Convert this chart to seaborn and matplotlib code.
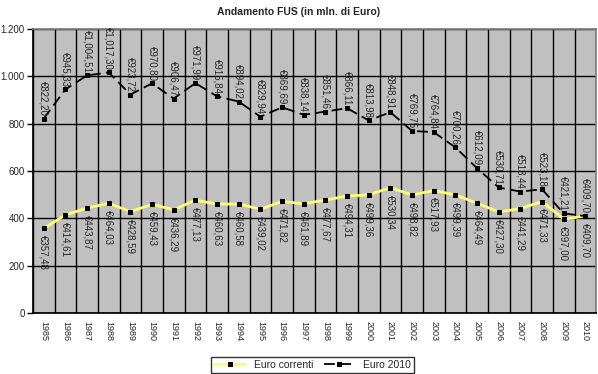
import matplotlib
matplotlib.use("Agg")
import matplotlib.pyplot as plt
import pandas as pd
import seaborn as sns

years = list(range(1985, 2011))
euro_correnti = [357.48, 414.61, 443.87, 464.03, 428.59, 459.43, 436.29, 477.13,
                 460.63, 460.58, 439.02, 471.82, 461.89, 477.67, 494.31, 499.36,
                 530.34, 498.82, 517.93, 499.39, 464.49, 427.30, 441.29, 471.33,
                 397.00, 409.70]
euro_2010 = [822.20, 945.33, 1004.51, 1017.30, 923.72, 970.80, 906.47, 971.99,
             915.84, 894.02, 829.94, 869.69, 838.14, 851.46, 866.11, 813.98,
             848.91, 769.75, 764.84, 700.26, 612.09, 530.71, 513.44, 523.18,
             421.21, 409.70]
y_ticks = [0, 200, 400, 600, 800, 1000, 1200]
y_labels = ["0", "200", "400", "600", "800", "1.000", "1.200"]


def euro(v):
    return "€" + f"{v:,.2f}".replace(".", ",")


sns.set_theme(style="white")
plt.rcParams["font.family"] = ["Liberation Sans", "DejaVu Sans"]

df = pd.DataFrame({"pos": range(len(years)), "corr": euro_correnti, "e2010": euro_2010})

fig = plt.figure(figsize=(5.98, 3.74), dpi=100)
ax = fig.add_axes([0.055, 0.163, 0.942, 0.759])
ax.set_facecolor("#c0c0c0")

sns.lineplot(data=df, x="pos", y="corr", ax=ax, color="#ffff70", lw=2,
             marker="s", markersize=3, markerfacecolor="black",
             markeredgecolor="black", label="Euro correnti", zorder=3)
sns.lineplot(data=df, x="pos", y="e2010", ax=ax, color="black", lw=1.3,
             linestyle=(0, (6, 3)), marker="s", markersize=3,
             markerfacecolor="black", markeredgecolor="black",
             label="Euro 2010", zorder=3)

for i, (c, e) in enumerate(zip(euro_correnti, euro_2010)):
    ax.annotate(euro(e), (i, e), xytext=(0, 2), textcoords="offset points",
                rotation=270, ha="center", va="bottom", fontsize=7, zorder=4)
    ax.annotate(euro(c), (i, c), xytext=(0, -5), textcoords="offset points",
                rotation=270, ha="center", va="top", fontsize=7, zorder=4)

ax.set_xlim(-0.5, len(years) - 0.5)
ax.set_ylim(0, 1200)
ax.set_xticks(range(len(years)))
ax.set_xticklabels([str(y) for y in years], rotation=270, fontsize=6.5)
ax.set_xticks([i - 0.5 for i in range(len(years) + 1)], minor=True)
ax.tick_params(axis="x", which="major", length=0, pad=6)
ax.tick_params(axis="x", which="minor", length=4, width=1, color="black", direction="out")
ax.set_yticks(y_ticks)
ax.set_yticklabels(y_labels, fontsize=7)
ax.tick_params(axis="y", length=4, width=1, color="black", direction="out",
               left=True, pad=2)
ax.grid(axis="y", which="major", color="black", lw=1)
ax.grid(axis="x", which="minor", color="black", lw=1)
ax.set_axisbelow(True)
ax.set_xlabel("")
ax.set_ylabel("")

for s in ["top", "right"]:
    ax.spines[s].set_color("#808080")
for s in ["left", "bottom"]:
    ax.spines[s].set_color("black")

ax.legend_.remove()
h, l = ax.get_legend_handles_labels()
leg = fig.legend(h, l, loc="center", ncol=2, fontsize=7.5, frameon=True,
                 fancybox=False, edgecolor="black", handlelength=3,
                 columnspacing=1.0, borderpad=0.3)
leg.set_bbox_to_anchor((0.523, 0.025), transform=fig.transFigure)
leg.get_frame().set_linewidth(1)

fig.suptitle("Andamento FUS (in mln. di Euro)", fontsize=7.5, fontweight="bold",
             x=0.5, y=0.98)

fig.savefig("out.png", dpi=100)
